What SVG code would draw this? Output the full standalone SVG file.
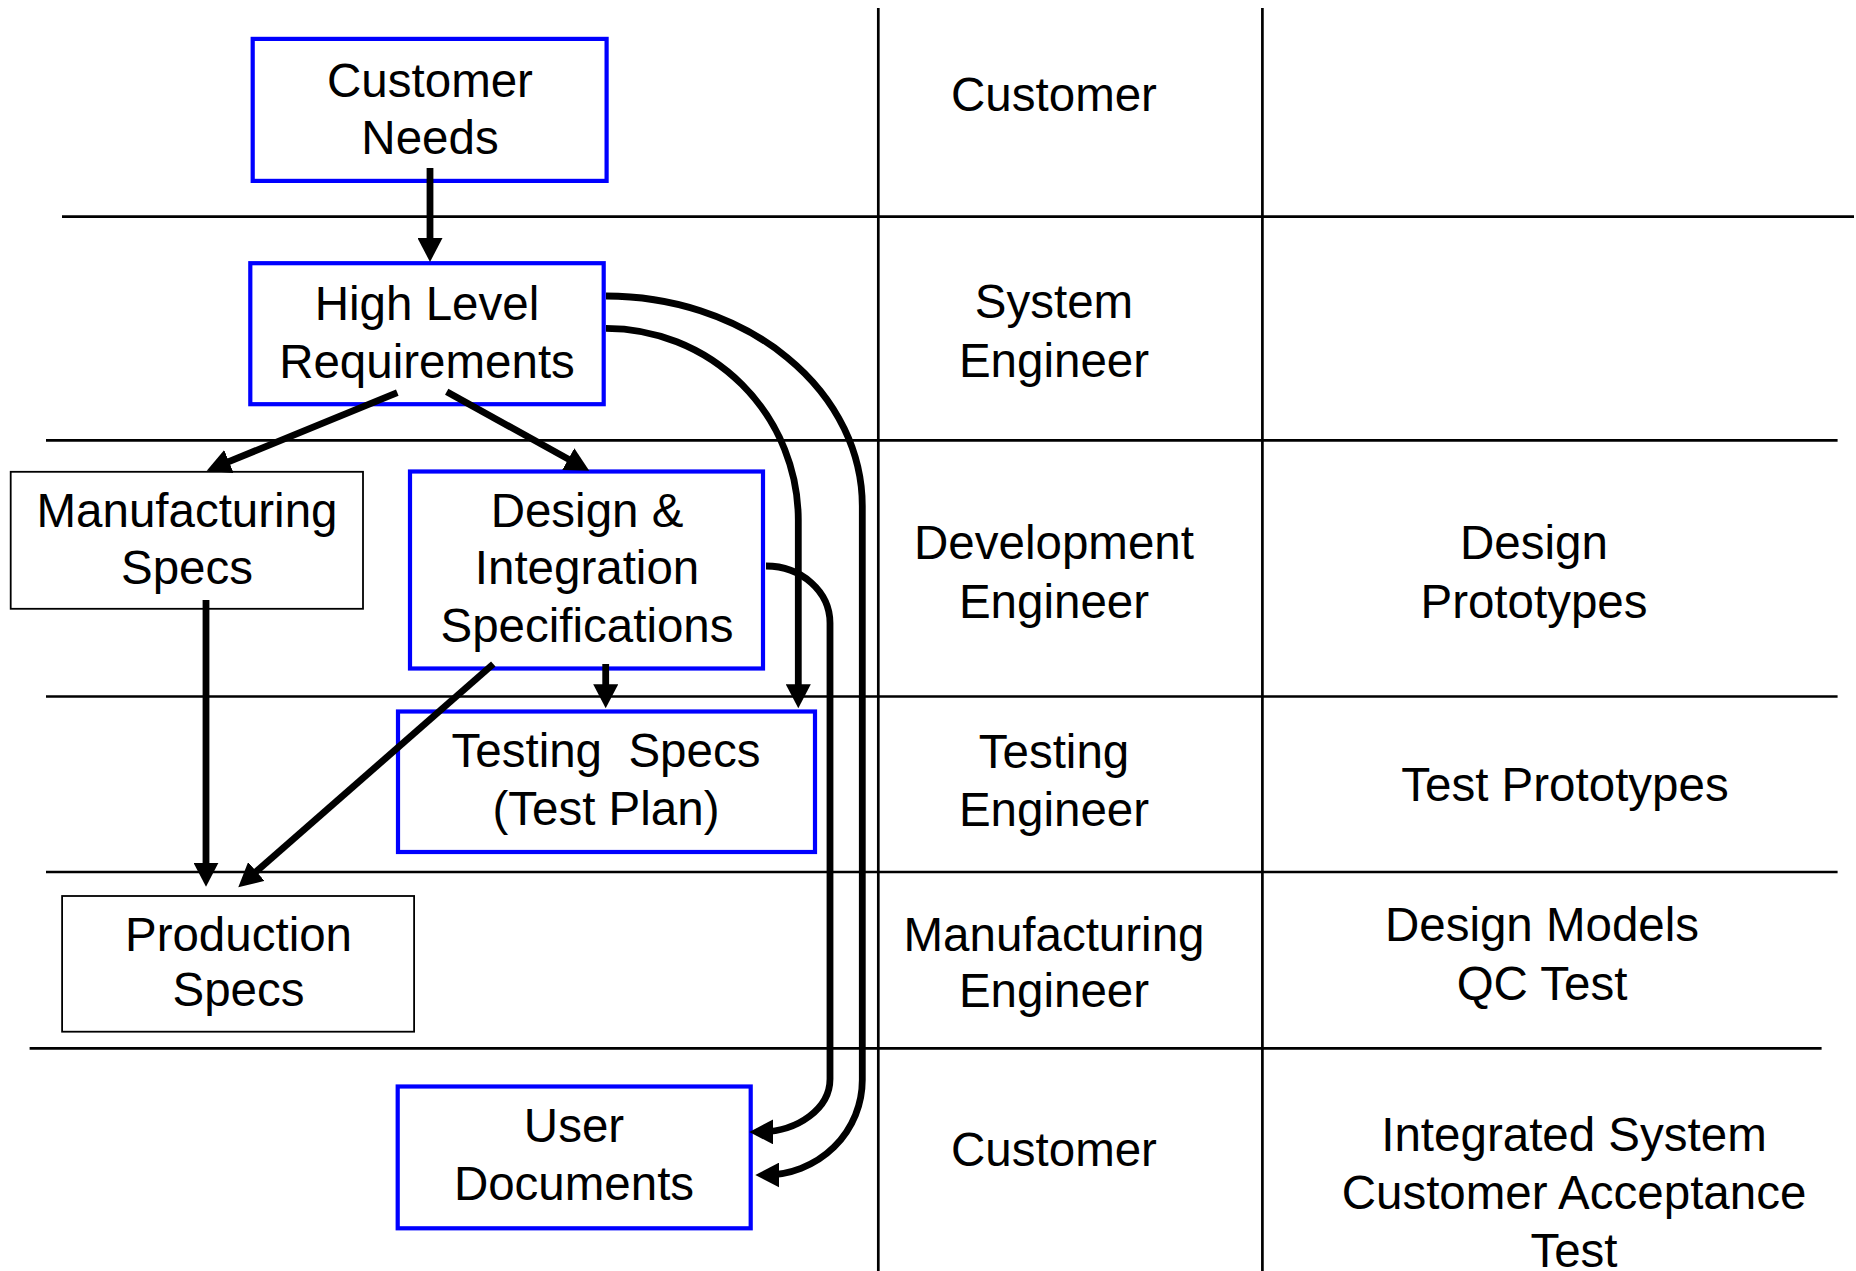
<svg xmlns="http://www.w3.org/2000/svg" width="1856" height="1271" viewBox="0 0 1856 1271">
<style>
text{font-family:"Liberation Sans",Arial,sans-serif;font-size:47.5px;fill:#000;text-anchor:middle;white-space:pre}
.grid{stroke:#000;stroke-width:2.7;fill:none}
.bb{fill:#fff;stroke:#0000ff;stroke-width:4.2}
.kb{fill:#fff;stroke:#000;stroke-width:1.8}
.cn{fill:none;stroke:#000;stroke-width:6.8}
</style>
<defs>
<marker id="ah" markerUnits="userSpaceOnUse" markerWidth="25" markerHeight="25" viewBox="0 0 25 25" refX="14" refY="12.5" orient="auto">
<path d="M0,0 L24,12.5 L0,25 z" fill="#000"/>
</marker>
</defs>
<g id="grid">
<line class="grid" x1="878.3" y1="8" x2="878.3" y2="1271"/>
<line class="grid" x1="1262.4" y1="8" x2="1262.4" y2="1271"/>
<line class="grid" x1="62" y1="216.7" x2="1854" y2="216.7"/>
<line class="grid" x1="46" y1="440.3" x2="1837.6" y2="440.3"/>
<line class="grid" x1="46" y1="696.5" x2="1837.6" y2="696.5"/>
<line class="grid" x1="46" y1="872" x2="1837.6" y2="872"/>
<line class="grid" x1="29.6" y1="1048.3" x2="1821.6" y2="1048.3"/>
</g>
<g id="labels">
<text x="1054" y="111.4">Customer</text>
<text x="1054" y="318">System</text>
<text x="1054" y="376.6">Engineer</text>
<text x="1054" y="559">Development</text>
<text x="1054" y="617.6">Engineer</text>
<text x="1534" y="559">Design</text>
<text x="1534" y="617.6">Prototypes</text>
<text x="1054" y="767.6">Testing</text>
<text x="1054" y="825.6">Engineer</text>
<text x="1565" y="801.3">Test Prototypes</text>
<text x="1054" y="951.4">Manufacturing</text>
<text x="1054" y="1007.4">Engineer</text>
<text x="1542" y="941.2">Design Models</text>
<text x="1542" y="1000">QC Test</text>
<text x="1054" y="1166.4">Customer</text>
<text x="1574" y="1151.3">Integrated System</text>
<text x="1574" y="1209">Customer Acceptance</text>
<text x="1574" y="1266.5">Test</text>
</g>
<g id="customer-needs">
<rect class="bb" x="252.7" y="38.9" width="353.9" height="142"/>
<text x="430" y="97">Customer</text>
<text x="430" y="153.5">Needs</text>
</g>
<g id="high-level-requirements">
<rect class="bb" x="250.3" y="263.2" width="353.4" height="141"/>
<text x="427" y="320">High Level</text>
<text x="427" y="377.5">Requirements</text>
</g>
<g id="manufacturing-specs">
<rect class="kb" x="10.7" y="471.8" width="352.3" height="137"/>
<text x="187" y="526.5">Manufacturing</text>
<text x="187" y="584.4">Specs</text>
</g>
<g id="design-integration-specs">
<rect class="bb" x="410" y="471.5" width="353" height="197"/>
<text x="587" y="526.5">Design &amp;</text>
<text x="587" y="584.4">Integration</text>
<text x="587" y="642">Specifications</text>
</g>
<g id="testing-specs">
<rect class="bb" x="398" y="711.5" width="417" height="140.5"/>
<text x="606" y="767.3">Testing  Specs</text>
<text x="606" y="825">(Test Plan)</text>
</g>
<g id="production-specs">
<rect class="kb" x="62.1" y="896" width="352" height="135.7"/>
<text x="238.5" y="950.6">Production</text>
<text x="238.5" y="1006">Specs</text>
</g>
<g id="user-documents">
<rect class="bb" x="397.7" y="1086.5" width="353" height="141.8"/>
<text x="574" y="1142">User</text>
<text x="574" y="1199.6">Documents</text>
</g>
<g id="connectors">
<path class="cn" marker-end="url(#ah)" d="M430,168 L430,252"/>
<path class="cn" marker-end="url(#ah)" d="M397.3,392.7 L216,466.9"/>
<path class="cn" marker-end="url(#ah)" d="M446.7,391.7 L580.5,465.9"/>
<path class="cn" marker-end="url(#ah)" d="M206,600 L206,876.7"/>
<path class="cn" marker-end="url(#ah)" d="M493.3,664 L245.8,880.7"/>
<path class="cn" marker-end="url(#ah)" d="M605.7,664 L605.7,698.3"/>
<path class="cn" marker-end="url(#ah)" d="M606,328.3 A192.3,192 0 0 1 798.3,520 L798.3,698.3"/>
<path class="cn" marker-end="url(#ah)" d="M606,296 A256.3,210 0 0 1 862.3,506 L862.3,1080 A97,95 0 0 1 765.3,1175"/>
<path class="cn" marker-end="url(#ah)" d="M766,566 A64,57 0 0 1 830,623 L830,1079 A71,53 0 0 1 759.3,1132"/>
</g>
</svg>
